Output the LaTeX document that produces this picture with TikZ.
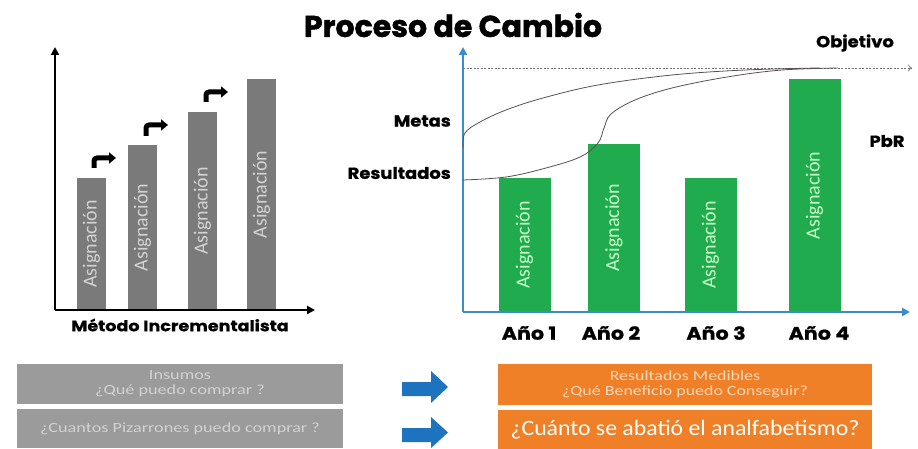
\documentclass[tikz,border=0pt]{standalone}
\usepackage{fontspec}
\setmainfont{Carlito}
\newfontfamily\pop{Poppins}[BoldFeatures={FakeBold=1}]
\newfontfamily\poptitle{Poppins}[BoldFeatures={FakeBold=1.6}]
\usetikzlibrary{arrows.meta}
\definecolor{barg}{RGB}{122,122,122}
\definecolor{barv}{RGB}{32,172,78}
\definecolor{axblue}{RGB}{60,140,205}
\definecolor{boxgray}{RGB}{155,155,155}
\definecolor{txtgray}{RGB}{210,210,210}
\definecolor{boxor}{RGB}{240,128,40}
\definecolor{txtor}{RGB}{252,215,185}
\definecolor{arrblue}{RGB}{30,115,190}
\definecolor{curvec}{RGB}{90,80,80}
\tikzset{
  gbar/.style={fill=barg, minimum width=29pt, inner sep=0pt, anchor=south},
  vbar/.style={fill=barv, minimum width=52pt, inner sep=0pt, anchor=south},
  btxt/.style={rotate=90, inner sep=0pt, font=\fontsize{20}{20}\selectfont},
  lab/.style={inner sep=0pt, font=\pop\bfseries\fontsize{16}{16}\selectfont\addfontfeature{FakeStretch=1.12}},
  yearlab/.style={inner sep=0pt, font=\pop\bfseries\fontsize{18}{18}\selectfont\addfontfeature{FakeStretch=1.15}},
  bent/.style={line width=5pt, rounded corners=3pt, -{Triangle[length=7pt,width=11pt]}},
  gbox/.style={fill=boxgray, minimum width=326pt, inner sep=0pt, text=txtgray, align=center, font=\fontsize{14}{15}\selectfont\addfontfeature{FakeStretch=1.3}},
  obox/.style={fill=boxor, minimum width=374pt, inner sep=0pt, align=center},
  curve/.style={draw=curvec, line width=0.8pt},
  axarrow/.style={line width=2pt, -{Triangle[length=8pt,width=8pt]}},
}
\begin{document}
\begin{tikzpicture}[x=1pt,y=-1pt]
\useasboundingbox[fill=white] (0,0) rectangle (918,449);
% title
\node[inner sep=0pt, font=\poptitle\bfseries\fontsize{30}{30}\selectfont] (title) at (453,25) {Proceso de Cambio};
% ---------- left chart
\coordinate (lo) at (55,310);
\coordinate (ly) at (55,47);
\coordinate (lx) at (315,310);
\node[gbar, minimum height=132pt] (b1) at (91.5,310) {};
\node[gbar, minimum height=165pt] (b2) at (142.5,310) {};
\node[gbar, minimum height=198pt] (b3) at (202.5,310) {};
\node[gbar, minimum height=231pt] (b4) at (261.5,310) {};
\foreach \b in {b1,b2,b3,b4}
  \node[btxt, text=txtgray] at (\b.center) {Asignación};
\draw[axarrow] (lo) -- (ly);
\draw[axarrow] (lo) -- (lx);
\coordinate (a1) at (94,168); \coordinate (a1e) at (116,158);
\coordinate (a2) at (146,136); \coordinate (a2e) at (168,125);
\coordinate (a3) at (206,102); \coordinate (a3e) at (228,92);
\draw[bent] (a1) |- (a1e);
\draw[bent] (a2) |- (a2e);
\draw[bent] (a3) |- (a3e);
\node[inner sep=0pt, font=\pop\bfseries\fontsize{15}{15}\selectfont\addfontfeature{FakeStretch=1.17}] (metodo) at (180,325) {Método Incrementalista};
% ---------- right chart
\coordinate (ro) at (463,312);
\coordinate (ry) at (463,47);
\coordinate (rx) at (910,312);
\coordinate (d0) at (463,68);
\coordinate (d1) at (912,68);
\node[vbar, minimum height=134pt] (g1) at (524.5,312) {};
\node[vbar, minimum height=168pt] (g2) at (614,312) {};
\node[vbar, minimum height=134pt] (g3) at (710.5,312) {};
\node[vbar, minimum height=233pt] (g4) at (814.5,312) {};
\foreach \b in {g1,g2,g3,g4}
  \node[btxt, text=green!22!white] at (\b.center) {Asignación};
\draw[axarrow, axblue] (ro) -- (ry);
\draw[axarrow, axblue] (ro) -- (rx);
\draw[gray!90!black, line width=0.7pt, dash pattern=on 2pt off 1.5pt, -{To[length=4pt,width=7pt]}] (d0) -- (d1);
\draw[curve] plot[smooth, tension=0.6] coordinates {(463,180) (506,177) (546,168) (580,157) (598,143) (604,128) (611,114) (635,100) (672,88) (727,77) (782,70) (838,68)};
\draw[curve] plot[smooth, tension=0.6] coordinates {(463,148) (465,133) (480,122) (506,110) (543,98) (598,85) (672,75) (745,70) (819,68)};
\node[lab, anchor=east] (metas) at (451,121) {Metas};
\node[lab, anchor=east] (result) at (451,173) {Resultados};
\node[lab] (objetivo) at (855,43) {Objetivo};
\node[lab] (pbr) at (887,141) {PbR};
\node[yearlab] (y1) at (529,333) {Año 1};
\node[yearlab] (y2) at (611,333) {Año 2};
\node[yearlab] (y3) at (716,333) {Año 3};
\node[yearlab] (y4) at (819,333) {Año 4};
% ---------- bottom
\node[gbox, minimum height=40pt] (ins) at (180,384) {Insumos\\¿Qué puedo comprar ?};
\node[gbox, minimum height=39pt] (piz) at (180,428.5) {¿Cuantos Pizarrones puedo comprar ?};
\fill[arrblue] (402,382) -- (431,382) -- (431,371) -- (448,387) -- (431,403) -- (431,396) -- (402,396) -- cycle;
\fill[arrblue] (402,428) -- (431,428) -- (431,417) -- (448,432.5) -- (431,448) -- (431,442) -- (402,442) -- cycle;
\node[obox, minimum height=41pt, text=txtor, font=\fontsize{14}{15}\selectfont\addfontfeature{FakeStretch=1.28}] (resmed) at (685,384.5) {Resultados Medibles\\¿Qué Beneficio puedo Conseguir?};
\node[obox, minimum height=39pt, text=white, font=\fontsize{22}{24}\selectfont\addfontfeature{FakeStretch=1.08}] (analf) at (685,429.5) {¿Cuánto se abatió el analfabetismo?};
\end{tikzpicture}
\end{document}
